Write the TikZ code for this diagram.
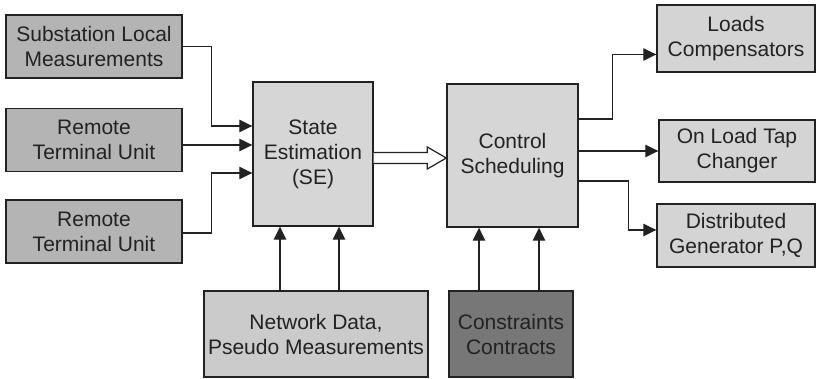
\documentclass[tikz,border=0pt]{standalone}
\usepackage{fontspec}
\setmainfont{Liberation Sans}
\usetikzlibrary{arrows.meta, positioning, calc}

\definecolor{srcgray}{HTML}{B4B4B4}
\definecolor{coregray}{HTML}{D6D6D6}
\definecolor{outgray}{HTML}{D4D4D4}
\definecolor{netgray}{HTML}{CBCBCB}
\definecolor{congray}{HTML}{777777}
\definecolor{ink}{HTML}{222222}

\begin{document}
\begin{tikzpicture}[x=1pt,y=-1pt,
  blk/.style={rectangle,draw=ink,line width=1.4pt,inner sep=0pt,align=center,text=ink,
    font=\fontsize{21}{25}\selectfont},
  src/.style={blk,fill=srcgray,minimum width=176pt,minimum height=63pt},
  core/.style={blk,fill=coregray},
  outb/.style={blk,fill=outgray,minimum height=63pt},
  arr/.style={-{Triangle[length=13pt,width=12.5pt]},line width=1.2pt,draw=ink}
]
  \useasboundingbox (0,0) rectangle (816,379);

  \node[src] (sub)  at (94,46.5) {Substation Local\\Measurements};
  \node[src] (rtu1) at (94,140)  {Remote\\Terminal Unit};
  \node[src] (rtu2) at (94,231.5){Remote\\Terminal Unit};

  \node[core,minimum width=120pt,minimum height=144pt] (se) at (313,154) {State\\Estimation\\(SE)};
  \node[core,minimum width=131pt,minimum height=143pt] (cs) at (512.5,155.5) {Control\\Scheduling};

  \node[outb,minimum width=158pt,minimum height=67pt] (loads) at (736,38.5) {\raisebox{-3pt}{\parbox{150pt}{\centering Loads\\Compensators}}};
  \node[outb,minimum width=156pt,minimum height=62pt] (oltc)  at (737,151)  {On Load Tap\\Changer};
  \node[outb,minimum width=158pt] (dg) at (736,235.5) {Distributed\\Generator P,Q};

  \node[blk,fill=netgray,minimum width=224pt,minimum height=86pt] (net) at (316,334) {Network Data,\\Pseudo Measurements};
  \node[blk,fill=congray,minimum width=124pt,minimum height=86pt] (con) at (511,334) {Constraints\\Contracts};

  % inputs of the state estimation
  \coordinate (in1) at ([yshift=28pt]se.west);
  \coordinate (in2) at ([yshift=9pt]se.west);
  \coordinate (in3) at ([yshift=-19pt]se.west);
  \draw[arr] (sub.east) -- ++(29,0) |- (in1);
  \draw[arr] (rtu1.east|-in2) -- (in2);
  \draw[arr] ([yshift=-1.5pt]rtu2.east) -- ++(29,0) |- (in3);

  % hollow arrow SE -> CS
  \coordinate (h1) at ([yshift=-4pt]se.east);
  \coordinate (h2) at (h1-|cs.west);
  \draw[draw=ink,line width=1.2pt,fill=white] ($(h1)+(0,-5.5)$) -- ($(h2)+(-19,-5.5)$)
    -- ($(h2)+(-19,-11)$) -- (h2) -- ($(h2)+(-19,11)$) -- ($(h2)+(-19,5.5)$) -- ($(h1)+(0,5.5)$);

  % outputs of the control scheduling
  \draw[arr] ([yshift=36.5pt]cs.east) -- ++(34,0) |- ([yshift=-16pt]loads.west);
  \draw[arr] (cs.east|-oltc.west) -- (oltc.west);
  \draw[arr] ([yshift=-25.5pt]cs.east) -- ++(50,0) |- ([yshift=5.5pt]dg.west);

  % data and constraints
  \draw[arr] ([xshift=-36pt]net.north) -- ([xshift=-36pt]net.north|-se.south);
  \draw[arr] ([xshift=23pt]net.north) -- ([xshift=23pt]net.north|-se.south);
  \draw[arr] ([xshift=-32pt]con.north) -- ([xshift=-32pt]con.north|-cs.south);
  \draw[arr] ([xshift=28pt]con.north) -- ([xshift=28pt]con.north|-cs.south);
\end{tikzpicture}
\end{document}
